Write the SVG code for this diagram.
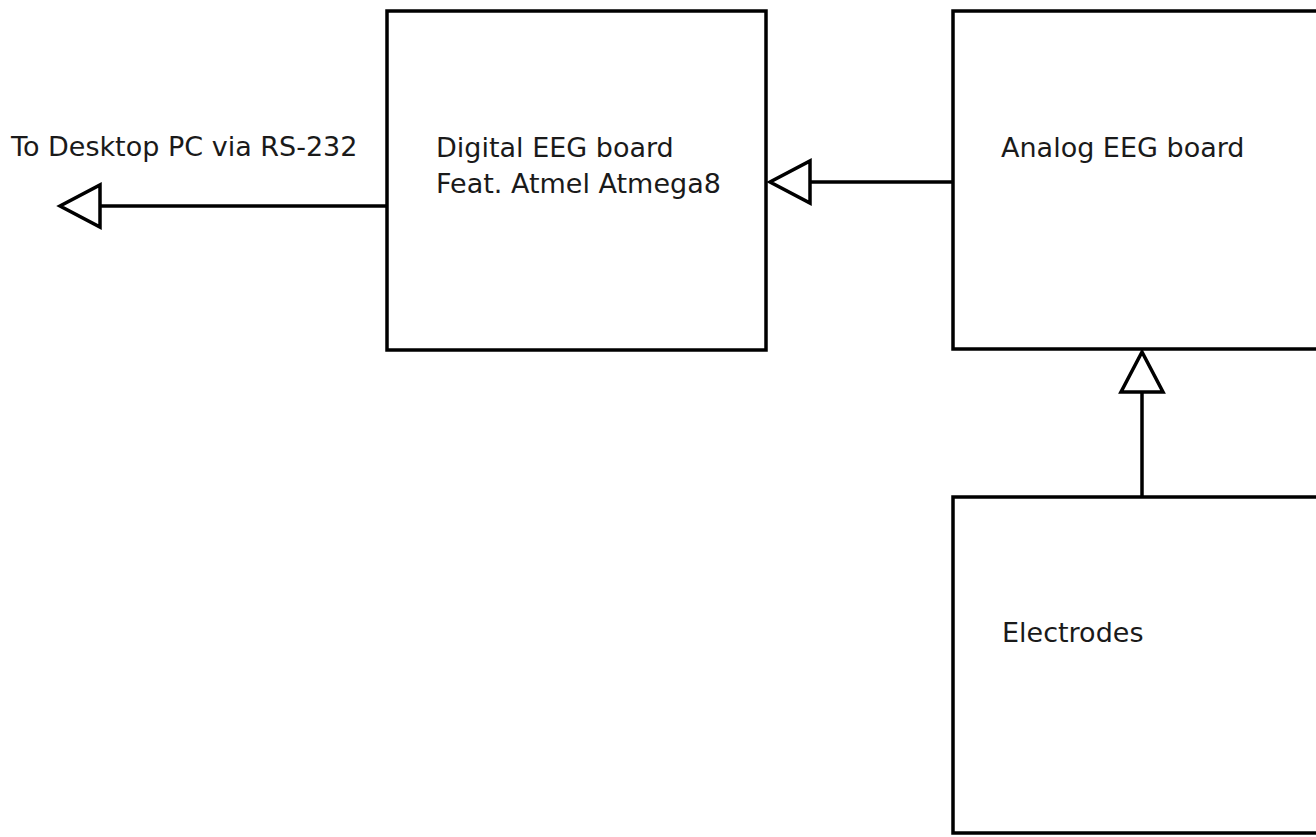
<svg xmlns="http://www.w3.org/2000/svg" width="1316" height="837" viewBox="0 0 1316 837">
<style>
.box{fill:#ffffff;stroke:#000;stroke-width:3.5}
.lbl{font-family:"DejaVu Sans",sans-serif;font-size:27px;fill:#1a1a1a}
.conn{stroke:#000;stroke-width:3.5;fill:none;marker-end:url(#tri)}
</style>
<defs>
<marker id="tri" markerUnits="userSpaceOnUse" markerWidth="46" markerHeight="46" refX="42" refY="23" orient="auto" overflow="visible">
<path d="M2,2 L2,44 L42,23 Z" fill="#fff" stroke="#000" stroke-width="3.5" stroke-linejoin="miter"/>
</marker>
</defs>
<rect width="1316" height="837" fill="#fff"/>
<g id="digital">
<rect class="box" x="387" y="11" width="379" height="339"/>
<text class="lbl" x="436" y="157">Digital EEG board</text>
<text class="lbl" x="436" y="193">Feat. Atmel Atmega8</text>
</g>
<g id="analog">
<rect class="box" x="953" y="11" width="380" height="338"/>
<text class="lbl" x="1001" y="157">Analog EEG board</text>
</g>
<g id="electrodes">
<rect class="box" x="953" y="497" width="380" height="336"/>
<text class="lbl" x="1002" y="642">Electrodes</text>
</g>
<g id="pc">
<text class="lbl" x="11" y="156">To Desktop PC via RS-232</text>
</g>
<g id="connectors">
<path class="conn" d="M387,206 L60,206"/>
<path class="conn" d="M953,182 L770,182"/>
<path class="conn" d="M1142,497 L1142,352"/>
</g>
</svg>
